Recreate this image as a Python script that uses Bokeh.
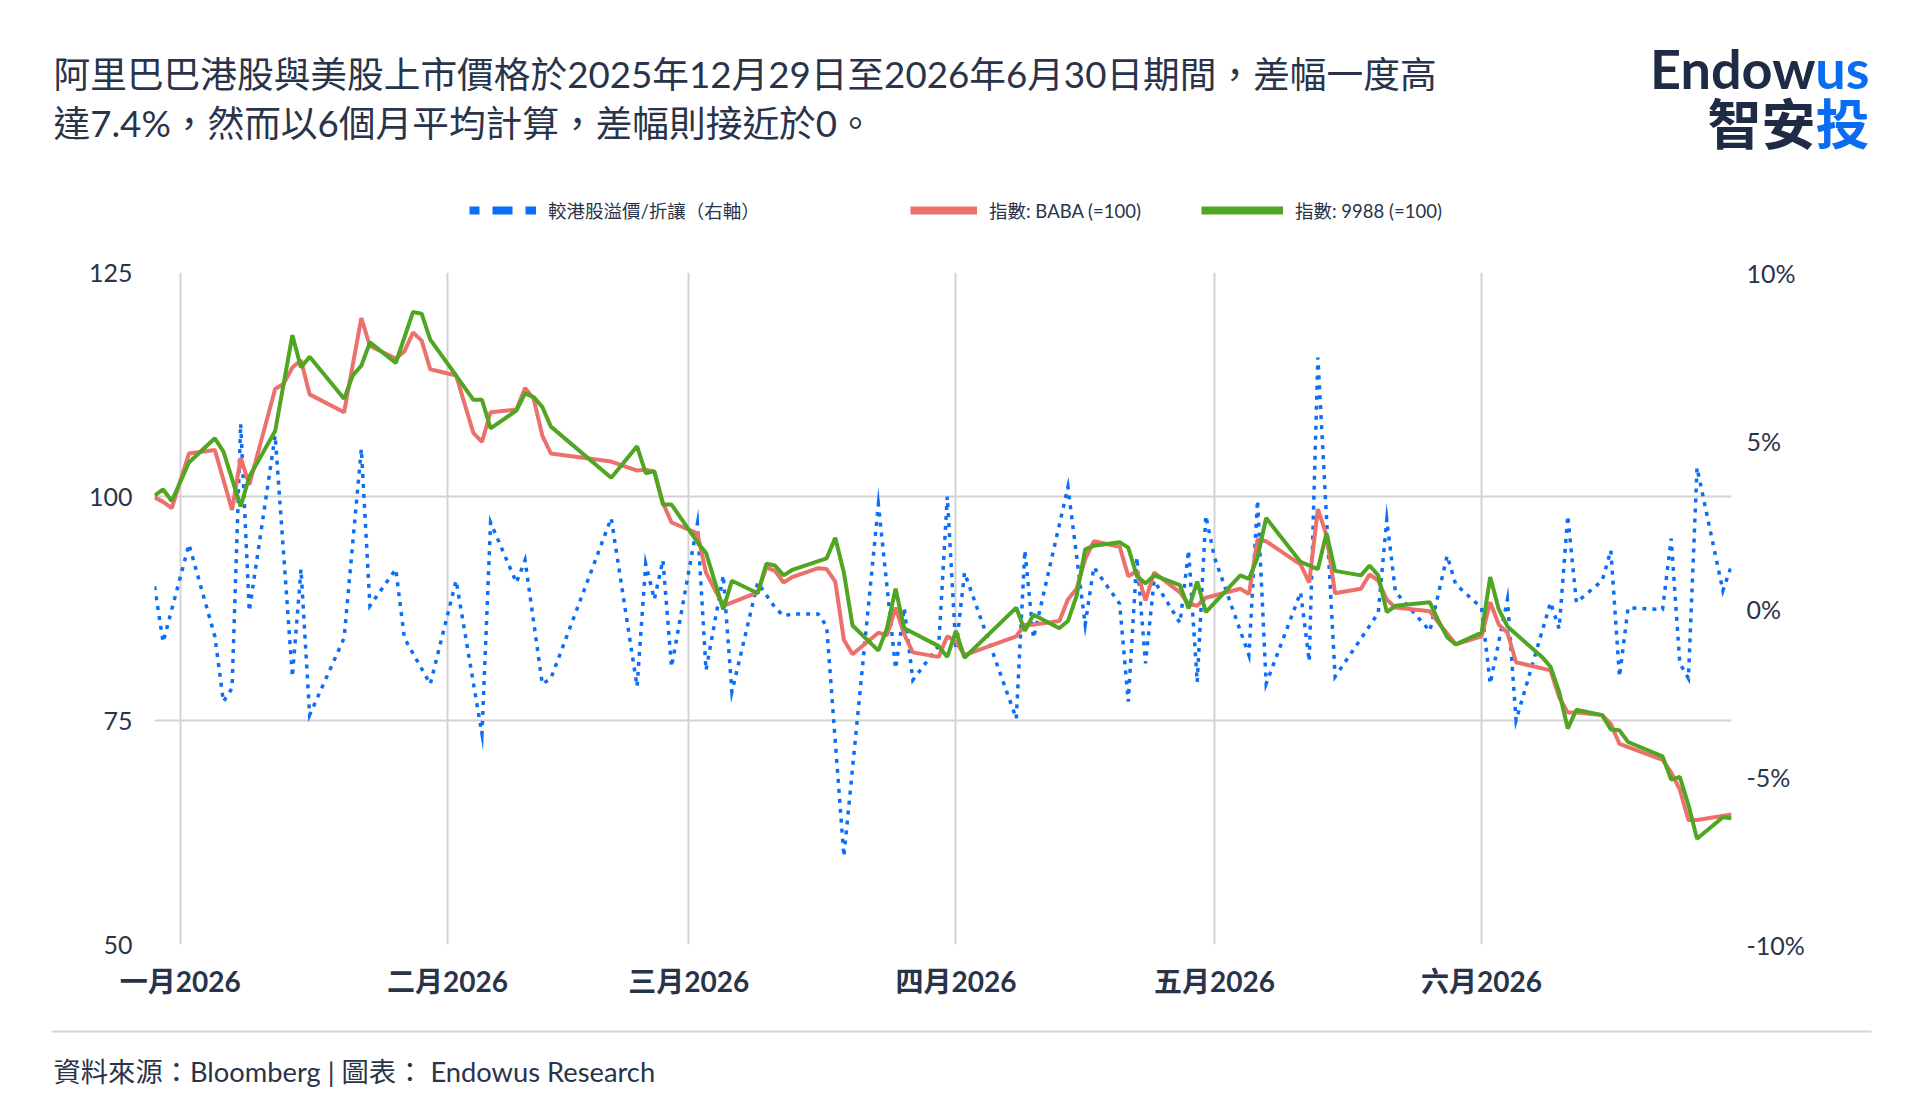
import pandas as pd
from bokeh.plotting import figure
from bokeh.layouts import column
from bokeh.models import (Range1d, LinearAxis, FixedTicker, PrintfTickFormatter, Legend,
                          LegendItem, Label, BoxAnnotation, ColumnDataSource)
from bokeh.embed import file_html
from bokeh.resources import INLINE

# ---------------- data ----------------
title_lines = ["阿里巴巴港股與美股上市價格於2025年12月29日至2026年6月30日期間，差幅一度高",
               "達7.4%，然而以6個月平均計算，差幅則接近於0。"]
source_note = "資料來源：Bloomberg | 圖表： Endowus Research"
legend_labels = ["較港股溢價/折讓（右軸）", "指數: BABA (=100)", "指數: 9988 (=100)"]
month_ticks = ["2026-01-01", "2026-02-01", "2026-03-01", "2026-04-01", "2026-05-01", "2026-06-01"]
month_labels = ["一月2026", "二月2026", "三月2026", "四月2026", "五月2026", "六月2026"]
left_ticks = [50, 75, 100, 125]
right_ticks = [-10, -5, 0, 5, 10]

baba_dates = ["2025-12-29", "2025-12-30", "2025-12-31", "2026-01-02", "2026-01-05", "2026-01-07",
              "2026-01-08", "2026-01-09", "2026-01-12", "2026-01-13", "2026-01-14", "2026-01-15",
              "2026-01-16", "2026-01-20", "2026-01-22", "2026-01-23", "2026-01-26", "2026-01-27",
              "2026-01-28", "2026-01-29", "2026-01-30", "2026-02-02", "2026-02-04", "2026-02-05",
              "2026-02-06", "2026-02-09", "2026-02-10", "2026-02-11", "2026-02-12", "2026-02-13",
              "2026-02-20", "2026-02-23", "2026-02-24", "2026-02-25", "2026-02-26", "2026-02-27",
              "2026-03-02", "2026-03-03", "2026-03-05", "2026-03-09", "2026-03-10", "2026-03-11",
              "2026-03-12", "2026-03-13", "2026-03-16", "2026-03-17", "2026-03-18", "2026-03-19",
              "2026-03-20", "2026-03-23", "2026-03-24", "2026-03-25", "2026-03-26", "2026-03-27",
              "2026-03-30", "2026-03-31", "2026-04-01", "2026-04-02", "2026-04-08", "2026-04-09",
              "2026-04-10", "2026-04-13", "2026-04-14", "2026-04-15", "2026-04-16", "2026-04-17",
              "2026-04-20", "2026-04-21", "2026-04-22", "2026-04-23", "2026-04-24", "2026-04-27",
              "2026-04-28", "2026-04-29", "2026-04-30", "2026-05-04", "2026-05-05", "2026-05-06",
              "2026-05-07", "2026-05-11", "2026-05-12", "2026-05-13", "2026-05-14", "2026-05-15",
              "2026-05-18", "2026-05-19", "2026-05-20", "2026-05-21", "2026-05-22", "2026-05-26",
              "2026-05-27", "2026-05-29", "2026-06-01", "2026-06-02", "2026-06-03", "2026-06-04",
              "2026-06-05", "2026-06-09", "2026-06-10", "2026-06-11", "2026-06-12", "2026-06-15",
              "2026-06-16", "2026-06-17", "2026-06-22", "2026-06-23", "2026-06-24", "2026-06-25",
              "2026-06-26", "2026-06-30"]
baba_values = [99.9, 99.4, 98.7, 104.8, 105.2, 98.5,
               104.3, 101.3, 112.0, 112.6, 114.4, 115.2,
               111.4, 109.4, 119.9, 116.8, 115.4, 116.2,
               118.3, 117.4, 114.2, 113.5, 107.1, 106.1,
               109.4, 109.7, 112.1, 110.9, 106.8, 104.8,
               103.9, 102.9, 103.0, 102.8, 99.3, 97.1,
               95.9, 91.5, 87.8, 89.3, 92.1, 91.7,
               90.4, 91.0, 92.0, 91.9, 90.5, 84.0,
               82.4, 84.8, 84.5, 87.6, 84.6, 82.6,
               82.1, 84.4, 83.8, 82.3, 84.4, 85.7,
               85.7, 86.1, 88.5, 89.7, 93.0, 95.0,
               94.4, 91.1, 91.7, 88.4, 91.5, 89.3,
               88.0, 87.8, 88.7, 89.7, 89.1, 95.2,
               95.0, 92.4, 90.4, 98.6, 95.7, 89.2,
               89.7, 91.3, 90.6, 88.5, 87.6, 87.2,
               85.9, 83.5, 84.4, 88.2, 85.7, 84.8,
               81.5, 80.6, 77.6, 75.9, 75.9, 75.6,
               74.6, 72.4, 70.6, 69.2, 67.3, 63.9,
               63.9, 64.5]

hk_dates = ["2025-12-29", "2025-12-30", "2025-12-31", "2026-01-02", "2026-01-05", "2026-01-06",
            "2026-01-08", "2026-01-09", "2026-01-12", "2026-01-14", "2026-01-15", "2026-01-16",
            "2026-01-20", "2026-01-21", "2026-01-22", "2026-01-23", "2026-01-26", "2026-01-28",
            "2026-01-29", "2026-01-30", "2026-02-02", "2026-02-04", "2026-02-05", "2026-02-06",
            "2026-02-09", "2026-02-10", "2026-02-11", "2026-02-12", "2026-02-13", "2026-02-20",
            "2026-02-23", "2026-02-24", "2026-02-25", "2026-02-26", "2026-02-27", "2026-03-02",
            "2026-03-03", "2026-03-05", "2026-03-06", "2026-03-09", "2026-03-10", "2026-03-11",
            "2026-03-12", "2026-03-13", "2026-03-17", "2026-03-18", "2026-03-19", "2026-03-20",
            "2026-03-23", "2026-03-24", "2026-03-25", "2026-03-26", "2026-03-30", "2026-03-31",
            "2026-04-01", "2026-04-02", "2026-04-08", "2026-04-09", "2026-04-10", "2026-04-13",
            "2026-04-14", "2026-04-15", "2026-04-16", "2026-04-17", "2026-04-20", "2026-04-21",
            "2026-04-22", "2026-04-23", "2026-04-24", "2026-04-27", "2026-04-28", "2026-04-29",
            "2026-04-30", "2026-05-04", "2026-05-05", "2026-05-06", "2026-05-07", "2026-05-11",
            "2026-05-12", "2026-05-13", "2026-05-14", "2026-05-15", "2026-05-18", "2026-05-19",
            "2026-05-20", "2026-05-21", "2026-05-22", "2026-05-26", "2026-05-27", "2026-05-28",
            "2026-05-29", "2026-06-01", "2026-06-02", "2026-06-03", "2026-06-04", "2026-06-08",
            "2026-06-09", "2026-06-10", "2026-06-11", "2026-06-12", "2026-06-15", "2026-06-16",
            "2026-06-17", "2026-06-18", "2026-06-22", "2026-06-23", "2026-06-24", "2026-06-25",
            "2026-06-26", "2026-06-29", "2026-06-30"]
hk_values = [100.1, 100.8, 99.5, 103.8, 106.5, 105.0,
             98.9, 102.2, 107.3, 118.0, 114.4, 115.6,
             110.9, 113.5, 114.6, 117.2, 114.9, 120.6,
             120.4, 117.5, 113.5, 110.8, 110.8, 107.6,
             109.6, 111.5, 111.1, 110.0, 107.8, 102.1,
             105.6, 102.6, 102.8, 99.1, 99.1, 94.9,
             93.7, 87.4, 90.6, 89.2, 92.5, 92.3,
             91.2, 91.8, 93.1, 95.4, 91.5, 85.6,
             82.8, 85.3, 89.7, 85.3, 83.3, 82.1,
             85.0, 82.0, 87.6, 85.0, 86.8, 85.3,
             86.1, 88.9, 94.1, 94.5, 94.9, 94.3,
             91.1, 90.3, 91.2, 90.1, 87.5, 90.5,
             87.1, 91.2, 90.8, 93.2, 97.6, 92.7,
             92.3, 91.9, 95.9, 91.7, 91.2, 92.3,
             91.2, 87.1, 87.8, 88.2, 86.1, 84.3,
             83.5, 84.8, 91.0, 87.4, 85.5, 82.1,
             81.0, 78.2, 74.1, 76.2, 75.6, 74.0,
             73.9, 72.6, 71.0, 68.4, 68.7, 65.6,
             61.8, 64.2, 64.1]

prem_dates = ["2025-12-29", "2025-12-30", "2026-01-02", "2026-01-05", "2026-01-06", "2026-01-07",
              "2026-01-08", "2026-01-09", "2026-01-12", "2026-01-14", "2026-01-15", "2026-01-16",
              "2026-01-20", "2026-01-22", "2026-01-23", "2026-01-26", "2026-01-27", "2026-01-30",
              "2026-02-02", "2026-02-05", "2026-02-06", "2026-02-09", "2026-02-10", "2026-02-12",
              "2026-02-13", "2026-02-20", "2026-02-23", "2026-02-24", "2026-02-25", "2026-02-26",
              "2026-02-27", "2026-03-02", "2026-03-03", "2026-03-05", "2026-03-06", "2026-03-09",
              "2026-03-11", "2026-03-12", "2026-03-13", "2026-03-16", "2026-03-17", "2026-03-19",
              "2026-03-23", "2026-03-25", "2026-03-26", "2026-03-27", "2026-03-30", "2026-03-31",
              "2026-04-01", "2026-04-02", "2026-04-08", "2026-04-09", "2026-04-10", "2026-04-14",
              "2026-04-16", "2026-04-17", "2026-04-20", "2026-04-21", "2026-04-22", "2026-04-23",
              "2026-04-24", "2026-04-27", "2026-04-28", "2026-04-29", "2026-04-30", "2026-05-01",
              "2026-05-05", "2026-05-06", "2026-05-07", "2026-05-11", "2026-05-12", "2026-05-13",
              "2026-05-15", "2026-05-20", "2026-05-21", "2026-05-22", "2026-05-26", "2026-05-28",
              "2026-05-29", "2026-06-01", "2026-06-02", "2026-06-04", "2026-06-05", "2026-06-09",
              "2026-06-10", "2026-06-11", "2026-06-12", "2026-06-15", "2026-06-16", "2026-06-17",
              "2026-06-18", "2026-06-22", "2026-06-23", "2026-06-24", "2026-06-25", "2026-06-26",
              "2026-06-29", "2026-06-30"]
prem_values = [0.66, -1.0, 1.91, -0.83, -2.77, -2.37,
               5.5, -0.08, 5.15, -2.03, 1.17, -3.17,
               -0.88, 4.75, 0.08, 1.17, -0.88, -2.25,
               0.83, -3.73, 2.56, 0.77, 1.44, -2.25,
               -2.08, 2.69, -2.32, 1.33, 0.27, 1.44,
               -1.74, 2.53, -1.84, 0.99, -2.48, 0.77,
               0.03, -0.22, -0.16, -0.16, -0.53, -7.38,
               3.1, -1.79, 0.02, -2.13, -1.11, 3.33,
               -1.23, 1.07, -3.28, 1.73, -0.88, 3.62,
               -0.48, 1.23, 0.14, -2.77, 1.52, -1.63,
               0.83, -0.43, 1.73, -2.19, 2.76, 1.52,
               -1.39, 3.22, -2.24, 0.48, -1.57, 7.47,
               -2.03, -0.14, 2.65, 0.5, -0.67, 1.57,
               0.72, 0.02, -2.24, 0.27, -3.33, 0.18,
               -0.6, 2.76, 0.18, 0.83, 1.73, -2.03,
               0.02, -0.03, 2.08, -1.63, -2.08, 4.19,
               0.53, 1.28]

# ---------------- style ----------------
TEXT = "#29344a"
NAVY = "#1f2b45"
LOGO_BLUE = "#0a6cf0"
BLUE = "#0b6ef9"
RED = "#ec706b"
GREEN = "#50a623"
GRID = "#d3d3d3"
FONT = "Lato, 'Noto Sans CJK TC'"
CJK = "'Noto Sans CJK TC', Lato"

W = 1904
H_HEAD, H_MAIN, H_FOOT = 240, 770, 94
FRAME_LEFT, FRAME_RIGHT, FRAME_TOP, FRAME_BOTTOM = 154, 1731, 272, 944   # page px


def blank(height):
    f = figure(width=W, height=height, output_backend="svg", toolbar_location=None,
               x_range=Range1d(0, W), y_range=Range1d(0, height),
               x_axis_location=None, y_axis_location=None,
               min_border=0, min_border_left=0, min_border_right=0,
               min_border_top=0, min_border_bottom=0)
    f.outline_line_color = None
    f.background_fill_color = "white"
    f.border_fill_color = "white"
    f.grid.visible = False
    return f


def add_label(f, top, text, page_x, page_y, size, color, align="left",
              style="normal", font=FONT):
    f.add_layout(Label(x=page_x, y=f.height - (page_y - top), text=text, text_font=font,
                       text_font_size=f"{size}px", text_color=color, text_align=align,
                       text_baseline="middle", text_font_style=style))


# ---------------- header: title, logo, legend ----------------
head = blank(H_HEAD)
add_label(head, 0, title_lines[0], 53, 73, 36.7, TEXT)
add_label(head, 0, title_lines[1], 53, 122, 36.7, TEXT)
add_label(head, 0, "Endow", 1869 - 54, 68, 54, NAVY, align="right", style="bold", font="Lato")
add_label(head, 0, "us", 1869, 68, 54, LOGO_BLUE, align="right", style="bold", font="Lato")
add_label(head, 0, "智安", 1869 - 54, 121, 54, NAVY, align="right", style="bold", font=CJK)
add_label(head, 0, "投", 1869, 121, 54, LOGO_BLUE, align="right", style="bold", font=CJK)

nan = float("nan")
leg_blue = head.line([nan], [nan], line_color=BLUE, line_width=8, line_dash="20 13",
                     line_dash_offset=10)
leg_red = head.line([nan], [nan], line_color=RED, line_width=8)
leg_green = head.line([nan], [nan], line_color=GREEN, line_width=8)
for rend, lab, px, gw in [(leg_blue, legend_labels[0], 469, 67),
                          (leg_red, legend_labels[1], 910, 67),
                          (leg_green, legend_labels[2], 1201, 82)]:
    lg = Legend(items=[LegendItem(label=lab, renderers=[rend])],
                location=(px, H_HEAD - 223), orientation="horizontal",
                glyph_width=gw, glyph_height=20, label_height=20, label_standoff=12,
                padding=0, margin=0, spacing=0, border_line_color=None,
                background_fill_alpha=0, label_text_font=FONT,
                label_text_font_size="18.5px", label_text_color=TEXT)
    head.add_layout(lg, "center")

# ---------------- main chart ----------------
main_top = H_HEAD
p = figure(width=W, height=H_MAIN, x_axis_type="datetime", output_backend="svg",
           toolbar_location=None,
           x_range=Range1d(pd.Timestamp("2025-12-29"), pd.Timestamp("2026-06-30")),
           y_range=Range1d(left_ticks[0], left_ticks[-1]),
           min_border_left=FRAME_LEFT, min_border_right=W - FRAME_RIGHT,
           min_border_top=FRAME_TOP - main_top,
           min_border_bottom=main_top + H_MAIN - FRAME_BOTTOM)
p.extra_y_ranges = {"pct": Range1d(right_ticks[0], right_ticks[-1])}
p.outline_line_color = None
p.background_fill_color = "white"
p.border_fill_color = "white"

tick_ms = [int(pd.Timestamp(d).value // 10**6) for d in month_ticks]
p.xaxis.ticker = FixedTicker(ticks=tick_ms)
p.xaxis.major_label_overrides = dict(zip(tick_ms, month_labels))
p.yaxis.ticker = FixedTicker(ticks=left_ticks)
right_axis = LinearAxis(y_range_name="pct", ticker=FixedTicker(ticks=right_ticks),
                        formatter=PrintfTickFormatter(format="%d%%"))
p.add_layout(right_axis, "right")

for ax in [p.xaxis[0], p.yaxis[0], right_axis]:
    ax.axis_line_color = None
    ax.major_tick_line_color = None
    ax.minor_tick_line_color = None
    ax.major_tick_out = 0
    ax.major_tick_in = 0
    ax.minor_tick_out = 0
    ax.major_label_text_color = TEXT
p.xaxis.major_label_text_font = FONT
p.xaxis.major_label_text_font_style = "bold"
p.xaxis.major_label_text_font_size = "28px"
p.xaxis.major_label_standoff = 19
p.yaxis[0].major_label_text_font = "Lato"
p.yaxis[0].major_label_text_font_size = "25px"
p.yaxis[0].major_label_standoff = 22
right_axis.major_label_text_font = "Lato"
right_axis.major_label_text_font_size = "25px"
right_axis.major_label_standoff = 15

p.xgrid.grid_line_color = GRID
p.xgrid.grid_line_width = 2
p.ygrid.grid_line_color = GRID
p.ygrid.grid_line_width = 2

src_prem = ColumnDataSource(dict(x=pd.to_datetime(prem_dates), y=prem_values))
src_baba = ColumnDataSource(dict(x=pd.to_datetime(baba_dates), y=baba_values))
src_hk = ColumnDataSource(dict(x=pd.to_datetime(hk_dates), y=hk_values))

p.line("x", "y", source=src_prem, y_range_name="pct", line_color=BLUE, line_width=3.5,
       line_dash="4 6", line_join="miter")
p.line("x", "y", source=src_baba, line_color=RED, line_width=4)
p.line("x", "y", source=src_hk, line_color=GREEN, line_width=4)

# ---------------- footer ----------------
foot_top = H_HEAD + H_MAIN
foot = blank(H_FOOT)
foot.add_layout(BoxAnnotation(left=51, right=1871,
                              bottom=H_FOOT - (1032 - foot_top), top=H_FOOT - (1030 - foot_top),
                              fill_color="#d6d6d6", fill_alpha=1, line_color=None))
add_label(foot, foot_top, source_note, 53, 1071, 27.3, TEXT)

# nested columns keep Bokeh from aligning the frames of the three canvases
layout = column(column(head), column(p), column(foot), spacing=0)
open("out.html", "w").write(file_html(layout, INLINE))
